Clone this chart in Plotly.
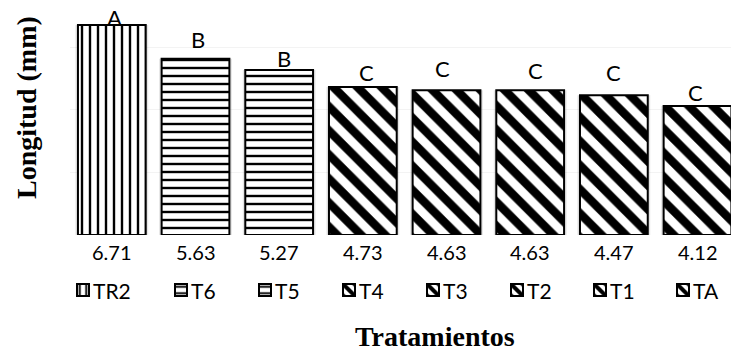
import plotly.graph_objects as go

# ---- data ----
categories = ["TR2", "T6", "T5", "T4", "T3", "T2", "T1", "TA"]
values = [6.71, 5.63, 5.27, 4.73, 4.63, 4.63, 4.47, 4.12]
value_labels = ["6.71", "5.63", "5.27", "4.73", "4.63", "4.63", "4.47", "4.12"]
group_letters = ["A", "B", "B", "C", "C", "C", "C", "C"]

# ---- styles / layout helpers ----
patterns = ["|", "-", "-", "\\", "\\", "\\", "\\", "\\"]
pat_size = [8, 8, 8, 17, 17, 17, 17, 17]
pat_sol = [0.3, 0.3, 0.3, 0.5, 0.5, 0.5, 0.5, 0.5]
letter_dy = [8, 19, 12, 15, 22, 20, 23, 14]
letter_dx = [3, 2, 5, 4, -4, 5, 0, -2]
key_center_x = [83, 181, 265, 349, 433, 517, 600, 683]  # px of legend key centres

W, H = 731, 351
L, R, T, B = 70, 0, 16, 116
pw = W - L - R
ph = H - T - B

fig = go.Figure()
# soft shadow behind bars
fig.add_trace(go.Bar(x=categories, y=values, width=0.87, showlegend=False,
                     marker=dict(color="rgba(0,0,0,0.10)", line=dict(width=0)),
                     hoverinfo="skip"))
for i, (c, v) in enumerate(zip(categories, values)):
    lg = "legend" if i == 0 else f"legend{i+1}"
    fig.add_trace(go.Bar(
        x=[c], y=[v], name="", legend=lg, width=0.81,
        marker=dict(
            color="white",
            line=dict(color="black", width=2),
            pattern=dict(shape=patterns[i], fgcolor="black", bgcolor="white",
                         size=pat_size[i], solidity=pat_sol[i], fgopacity=1),
        ),
        showlegend=True,
    ))

annotations = []
for i, (c, v) in enumerate(zip(categories, values)):
    annotations.append(dict(x=c, y=v, xref="x", yref="y", text=group_letters[i],
                            showarrow=False, yanchor="middle", xanchor="center",
                            yshift=letter_dy[i], xshift=letter_dx[i],
                            font=dict(family="Lato", size=22, color="black")))
    annotations.append(dict(x=c, y=0, xref="x", yref="paper", text=value_labels[i],
                            showarrow=False, yanchor="middle", xanchor="center",
                            yshift=-17,
                            font=dict(family="Lato", size=20, color="black")))
    annotations.append(dict(x=(key_center_x[i] + 8 - L) / pw, y=-(290 - (H - B)) / ph,
                            xref="paper", yref="paper", text=c,
                            showarrow=False, yanchor="middle", xanchor="left",
                            font=dict(family="Lato", size=21, color="black")))

annotations.append(dict(x=(26 - L) / pw, y=(H - B - 108) / ph, xref="paper", yref="paper",
                        text="<b>Longitud (mm)</b>", textangle=-90, showarrow=False,
                        xanchor="center", yanchor="middle",
                        font=dict(family="Liberation Serif", size=28, color="black")))
annotations.append(dict(x=(435 - L) / pw, y=-(336 - (H - B)) / ph, xref="paper", yref="paper",
                        text="<b>Tratamientos</b>", showarrow=False,
                        xanchor="center", yanchor="middle",
                        font=dict(family="Liberation Serif", size=28, color="black")))

layout_legends = {}
for i in range(len(categories)):
    key = "legend" if i == 0 else f"legend{i+1}"
    layout_legends[key] = dict(
        x=(key_center_x[i] - 20 - L) / pw, xanchor="left",
        y=-(290 - (H - B)) / ph, yanchor="middle",
        orientation="h", bgcolor="rgba(0,0,0,0)", borderwidth=0,
        font=dict(family="Lato", size=12, color="black"),
        itemclick=False, itemdoubleclick=False,
    )

fig.update_layout(
    width=W, height=H,
    margin=dict(l=L, r=R, t=T, b=B, pad=0),
    paper_bgcolor="white", plot_bgcolor="white",
    barmode="overlay", bargap=0.19,
    xaxis=dict(range=[-0.5, 7.4], showticklabels=False, showgrid=False,
               zeroline=False, showline=False, ticks=""),
    yaxis=dict(range=[0, 7], dtick=2, showticklabels=False, showgrid=True,
               gridcolor="#f3f3f3", gridwidth=1, zeroline=False, showline=False, ticks=""),
    annotations=annotations,
    **layout_legends,
)

fig.write_html("out.html", config={"displayModeBar": False},
               post_script="document.body.style.margin='0';document.body.style.overflow='hidden';")
